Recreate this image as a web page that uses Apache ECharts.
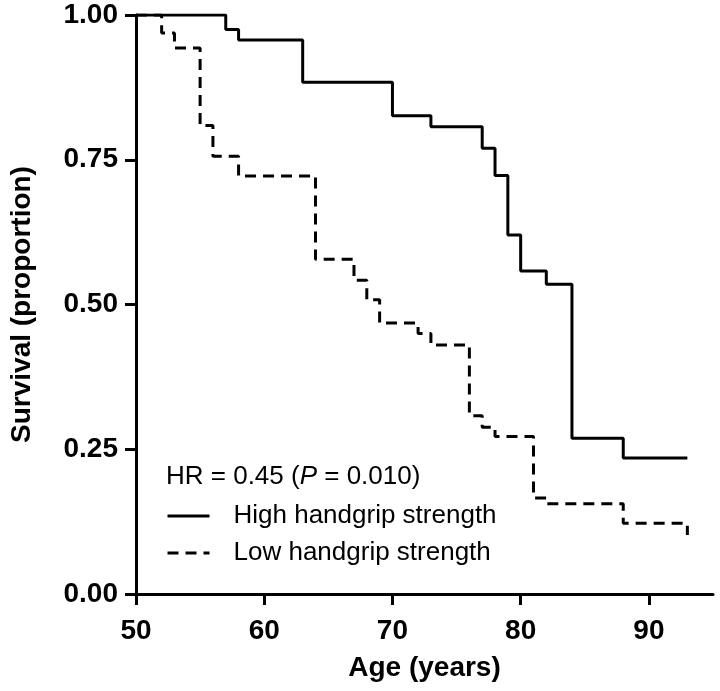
<!DOCTYPE html>
<html>
<head>
<meta charset="utf-8">
<script src="https://cdn.jsdelivr.net/npm/echarts@6/dist/echarts.min.js"></script>
<style>
html,body{margin:0;padding:0;background:#fff;}
#chart{width:720px;height:691px;}
</style>
</head>
<body>
<div id="chart"></div>
<script>
// High handgrip strength: [age, survival]
const highAges = [50, 57, 58, 63, 70, 73, 77, 78, 79, 80, 82, 84, 88, 93];
const highSurv = [1.000, 0.975, 0.957, 0.884, 0.826, 0.807, 0.770, 0.723, 0.620, 0.558, 0.535, 0.269, 0.235, 0.235];
// Low handgrip strength
const lowAges = [50, 52, 53, 55, 56, 58, 64, 67, 68, 69, 72, 73, 76, 77, 78, 81, 82, 88, 93];
const lowSurv = [1.000, 0.969, 0.943, 0.809, 0.756, 0.722, 0.578, 0.542, 0.508, 0.468, 0.450, 0.430, 0.308, 0.288, 0.272, 0.166, 0.156, 0.122, 0.102];
const xTicks = [50, 60, 70, 80, 90];
const yTicks = [0, 0.25, 0.5, 0.75, 1.0];
const seriesNames = ['High handgrip strength', 'Low handgrip strength'];

const boldFont = "'Liberation Sans', Arial, sans-serif";
const regFont = "'Liberation Sans', Arial, sans-serif";

const chart = echarts.init(document.getElementById('chart'), null, {renderer: 'canvas'});
const option = {
  backgroundColor: '#fff',
  animation: false,
  grid: {left: 132, right: 7, top: 15, bottom: 97, containLabel: false},
  xAxis: {
    type: 'value', min: 50, max: 95, interval: 10,
    name: 'Age (years)', nameLocation: 'middle', nameGap: 60,
    nameTextStyle: {fontFamily: boldFont, fontWeight: 'bold', fontSize: 28, color: '#000'},
    axisLine: {show: true, lineStyle: {color: '#000', width: 3}},
    axisTick: {show: true, length: 11, lineStyle: {color: '#000', width: 3}, customValues: xTicks},
    axisLabel: {fontFamily: boldFont, fontWeight: 'bold', fontSize: 28, color: '#000', margin: 23,
      customValues: xTicks},
    splitLine: {show: false}
  },
  yAxis: {
    type: 'value', min: 0, max: 1, interval: 0.25,
    name: 'Survival (proportion)', nameLocation: 'middle', nameGap: 100,
    nameTextStyle: {fontFamily: boldFont, fontWeight: 'bold', fontSize: 28, color: '#000'},
    axisLine: {show: true, lineStyle: {color: '#000', width: 3}},
    axisTick: {show: true, length: 11, lineStyle: {color: '#000', width: 3}, customValues: yTicks},
    axisLabel: {fontFamily: boldFont, fontWeight: 'bold', fontSize: 28, color: '#000', margin: 18,
      customValues: yTicks, formatter: v => v.toFixed(2)},
    splitLine: {show: false}
  },
  legend: {
    show: true, orient: 'vertical', left: 166, top: 503, padding: 0,
    itemWidth: 42, itemHeight: 26, itemGap: 11,
    itemStyle: {opacity: 0},
    lineStyle: {width: 3},
    textStyle: {fontFamily: regFont, fontSize: 26, lineHeight: 26, color: '#000', padding: [0, 0, 0, 19]},
    data: seriesNames
  },
  graphic: [{
    type: 'text', left: 166, top: 464,
    style: {
      text: '{a|HR = 0.45 (}{i|P}{a| = 0.010)}',
      rich: {
        a: {fontFamily: regFont, fontSize: 26, fill: '#000', fontStyle: 'normal'},
        i: {fontFamily: regFont, fontSize: 26, fill: '#000', fontStyle: 'italic'}
      }
    }
  }],
  series: [
    {
      name: seriesNames[0], type: 'line', step: 'end', showSymbol: false, symbol: 'none',
      lineStyle: {color: '#000', width: 3, type: 'solid'},
      itemStyle: {color: '#000'},
      data: highAges.map((a, i) => [a, highSurv[i]])
    },
    {
      name: seriesNames[1], type: 'line', step: 'end', showSymbol: false, symbol: 'none',
      lineStyle: {color: '#000', width: 3, type: [11, 7]},
      itemStyle: {color: '#000'},
      data: lowAges.map((a, i) => [a, lowSurv[i]])
    }
  ]
};
chart.setOption(option);
</script>
</body>
</html>
